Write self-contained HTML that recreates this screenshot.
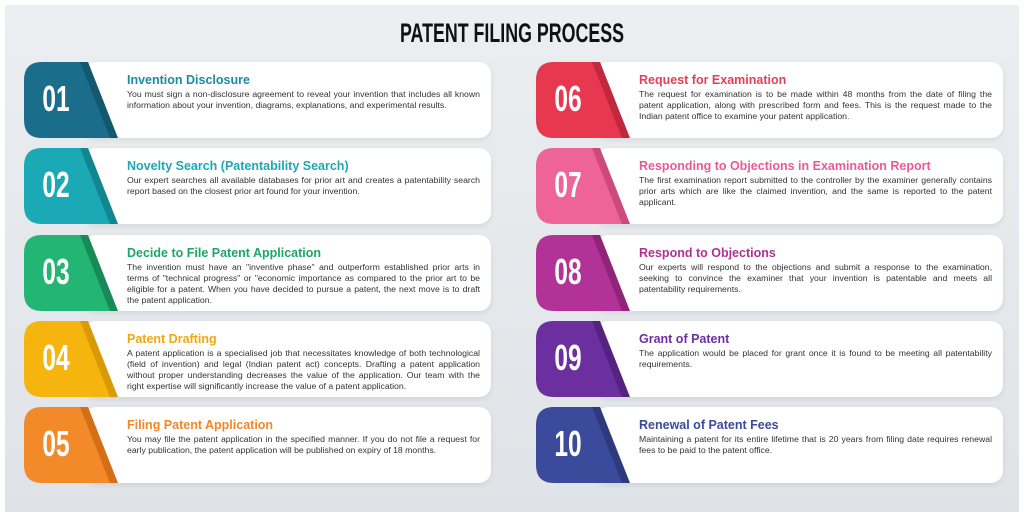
<!DOCTYPE html>
<html><head><meta charset="utf-8"><style>
body{margin:0;width:1024px;height:512px;overflow:hidden;background:#fff;font-family:"Liberation Sans",sans-serif;}
.bg{position:absolute;left:5px;top:5px;width:1014px;height:507px;background:linear-gradient(#eceef1,#dfe3e7);}
h1{position:absolute;left:0;width:1024px;top:18px;margin:0;text-align:center;font-family:"Liberation Sans",sans-serif;font-weight:bold;font-size:27px;color:#111;transform:scaleX(0.66);}
.card{position:absolute;height:76px;background:#fff;border-radius:12px;box-shadow:0 2px 6px rgba(0,0,0,0.08);}
.b{position:absolute;}
.num{position:absolute;width:64px;text-align:center;font-family:"Liberation Sans",sans-serif;font-weight:bold;font-size:36px;color:#fff;transform:scaleX(0.68);}
.t{position:absolute;width:353px;}
.t b{display:block;font-size:12.5px;margin-bottom:2px;}
.t p{margin:0;font-size:8.7px;line-height:11px;color:#333;text-align:justify;}
</style></head><body>
<div class="bg"></div>
<h1>PATENT FILING PROCESS</h1>
<div id="c"></div>
<script>
const items=[
["01","#1a6e8c","#13586f","#1d8aa6","Invention Disclosure","You must sign a non-disclosure agreement to reveal your invention that includes all known information about your invention, diagrams, explanations, and experimental results."],
["02","#1aa9b5","#12868f","#1aa9b5","Novelty Search (Patentability Search)","Our expert searches all available databases for prior art and creates a patentability search report based on the closest prior art found for your invention."],
["03","#22b574","#178a57","#1fa66a","Decide to File Patent Application","The invention must have an \"inventive phase\" and outperform established prior arts in terms of \"technical progress\" or \"economic importance as compared to the prior art to be eligible for a patent. When you have decided to pursue a patent, the next move is to draft the patent application."],
["04","#f5b50e","#d99a06","#f0a80c","Patent Drafting","A patent application is a specialised job that necessitates knowledge of both technological (field of invention) and legal (Indian patent act) concepts. Drafting a patent application without proper understanding decreases the value of the application. Our team with the right expertise will significantly increase the value of a patent application."],
["05","#f38a2a","#d46f17","#f0882a","Filing Patent Application","You may file the patent application in the specified manner. If you do not file a request for early publication, the patent application will be published on expiry of 18 months."],
["06","#e8384f","#c0283d","#e0405a","Request for Examination","The request for examination is to be made within 48 months from the date of filing the patent application, along with prescribed form and fees. This is the request made to the Indian patent office to examine your patent application."],
["07","#ee6398","#cc4a7d","#ea5b92","Responding to Objections in Examination Report","The first examination report submitted to the controller by the examiner generally contains prior arts which are like the claimed invention, and the same is reported to the patent applicant."],
["08","#b23298","#8f2479","#ae3296","Respond to Objections","Our experts will respond to the objections and submit a response to the examination, seeking to convince the examiner that your invention is patentable and meets all patentability requirements."],
["09","#6b2fa0","#55237f","#6b2fa0","Grant of Patent","The application would be placed for grant once it is found to be meeting all patentability requirements."],
["10","#3c4a9b","#2e3a7d","#3c4a9b","Renewal of Patent Fees","Maintaining a patent for its entire lifetime that is 20 years from filing date requires renewal fees to be paid to the patent office."]];
const tops=[62,148,235,321,407];
let h="";
items.forEach((it,i)=>{
 const col=i<5?0:1, y=tops[i%5], x=col?536:24, cr=col?1003:491;
 h+=`<div class="card" style="left:${x+60}px;top:${y}px;width:${cr-x-60}px"></div>`;
 h+=`<svg class="b" style="left:${x}px;top:${y}px" width="100" height="76"><path d="M18 0 H58 L90 76 H18 Q0 76 0 58 V18 Q0 0 18 0Z" fill="${it[1]}"/><path d="M56 0 H64 L94 76 H86Z" fill="${it[2]}"/></svg>`;
 h+=`<div class="num" style="left:${x}px;top:${y+16}px">${it[0]}</div>`;
 h+=`<div class="t" style="left:${x+103}px;top:${y+11}px"><b style="color:${it[3]}">${it[4]}</b><p>${it[5]}</p></div>`;
});
document.getElementById("c").innerHTML=h;
</script>
</body></html>
